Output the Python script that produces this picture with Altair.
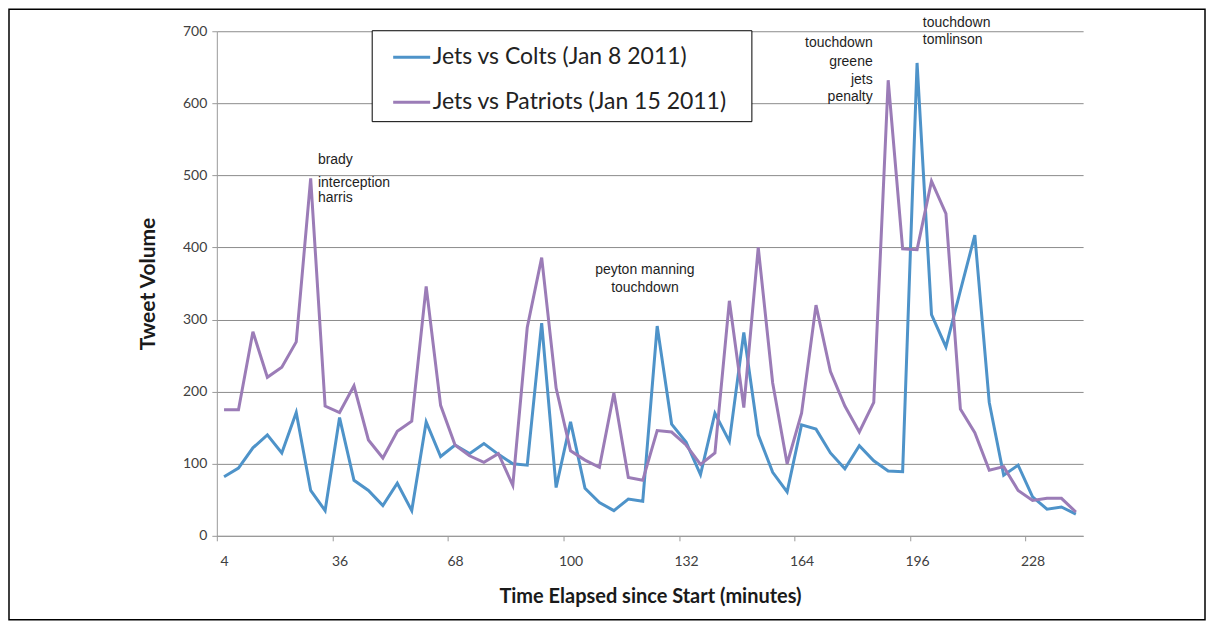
import altair as alt
import pandas as pd

minutes = list(range(4, 244, 4))  # 60 four-minute buckets

colts = [82, 94, 122, 140, 115, 171, 63, 35, 164, 77,
         63, 42, 73, 35, 158, 110, 126, 114, 128, 113,
         100, 98, 295, 67, 158, 66, 46, 35, 51, 48,
         291, 155, 130, 85, 170, 131, 282, 140, 88, 61,
         154, 148, 115, 93, 125, 104, 90, 89, 656, 307,
         262, 340, 417, 185, 84, 98, 54, 37, 40, 30]

patriots = [175, 175, 283, 220, 234, 269, 496, 180, 171, 208,
            133, 108, 145, 159, 346, 181, 126, 111, 102, 114,
            70, 289, 386, 205, 118, 105, 95, 198, 81, 77,
            146, 144, 126, 99, 115, 326, 178, 400, 212, 100,
            170, 320, 228, 180, 144, 185, 632, 398, 397, 492,
            447, 176, 143, 91, 96, 63, 49, 52, 52, 33]

series_names = ["Jets vs Colts (Jan 8 2011)", "Jets vs Patriots (Jan 15 2011)"]
series_colors = ["#4e93c9", "#9b7cb7"]

x_tick_labels = [4, 36, 68, 100, 132, 164, 196, 228]
y_ticks = [0, 100, 200, 300, 400, 500, 600, 700]

ann_lines = ["brady", "interception", "harris",
             "peyton manning", "touchdown",
             "touchdown", "greene", "jets", "penalty",
             "touchdown", "tomlinson"]
ann_minute = [30, 30, 30, 120.6, 120.6, 183.7, 183.7, 183.7, 183.7, 197.6, 197.6]
ann_volume = [521, 489, 468, 369, 344, 683, 658, 633, 609, 712, 688]
ann_align = ["left"] * 3 + ["center"] * 2 + ["right"] * 4 + ["left"] * 2

df = pd.DataFrame({
    "minute": minutes * 2,
    "volume": colts + patriots,
    "game": [series_names[0]] * len(minutes) + [series_names[1]] * len(minutes),
})
ann = pd.DataFrame({"text": ann_lines, "minute": ann_minute,
                    "volume": ann_volume, "align": ann_align})

x_scale = alt.Scale(domain=[2, 242], nice=False, zero=False)
y_scale = alt.Scale(domain=[0, 700], nice=False)

lines = alt.Chart(df).mark_line(strokeWidth=3, strokeJoin="miter").encode(
    x=alt.X("minute:Q", scale=x_scale,
            axis=alt.Axis(values=x_tick_labels, title="Time Elapsed since Start (minutes)",
                          grid=False, domainColor="#9a9a9a", tickColor="#9a9a9a",
                          tickSize=5, tickOffset=-7, labelOffset=7,
                          labelFont="Lato", labelFontSize=14, labelColor="#404040",
                          labelPadding=14, titleFont="Lato", titleFontSize=20,
                          titleFontWeight="bold", titleColor="#1a1a1a", titlePadding=18)),
    y=alt.Y("volume:Q", scale=y_scale,
            axis=alt.Axis(values=y_ticks, title="Tweet Volume", grid=True,
                          gridColor="#8c8c8c", gridWidth=1, domainColor="#9a9a9a",
                          tickColor="#9a9a9a", tickSize=5,
                          labelFont="Lato", labelFontSize=14, labelColor="#404040",
                          labelPadding=5, titleFont="Lato", titleFontSize=21,
                          titleFontWeight="bold", titleColor="#1a1a1a", titlePadding=24)),
    color=alt.Color("game:N", scale=alt.Scale(domain=series_names, range=series_colors),
                    legend=alt.Legend(title="xx", titleColor="white", titleOrient="right",
                                      titleFontSize=14, titlePadding=2,
                                      orient="none", legendX=155, legendY=-1,
                                      strokeColor="black", fillColor="white", padding=7,
                                      symbolType="stroke", symbolSize=1369, symbolStrokeWidth=3,
                                      symbolOffset=13,
                                      labelFont="Lato", labelFontSize=23, labelColor="#222222",
                                      labelOffset=1, rowPadding=13, labelLimit=600)),
)

def ann_layer(a):
    return alt.Chart(ann[ann["align"] == a]).mark_text(
        align=a, baseline="middle", font="Liberation Sans", fontSize=14, color="#1e1e1e"
    ).encode(x=alt.X("minute:Q", scale=x_scale), y=alt.Y("volume:Q", scale=y_scale), text="text:N")

frame = alt.Chart(pd.DataFrame({"k": [0]})).mark_rect(
    fill=None, stroke="black", strokeWidth=1.5
).encode(x=alt.value(-208), x2=alt.value(989), y=alt.value(-22), y2=alt.value(589))

chart = alt.layer(frame, lines, ann_layer("left"), ann_layer("center"), ann_layer("right")).properties(
    width=867, height=505, padding=0, background="white"
).configure_view(stroke=None)

chart.save("out.html", embed_options={"renderer": "svg", "actions": False})
